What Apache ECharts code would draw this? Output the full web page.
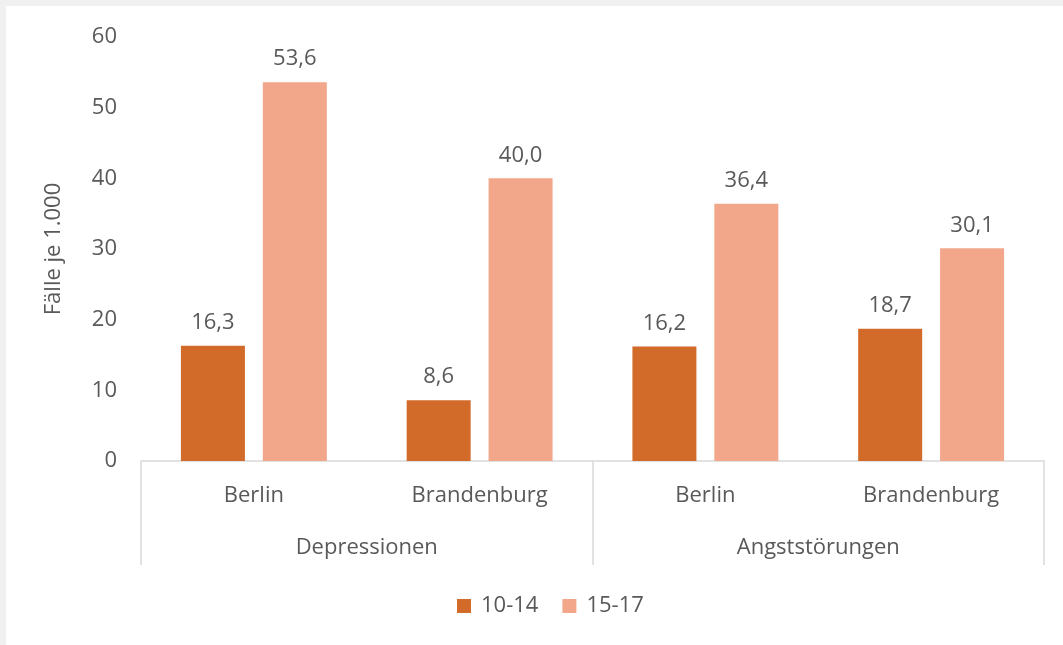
<!DOCTYPE html>
<html>
<head>
<meta charset="utf-8">
<script src="https://cdn.jsdelivr.net/npm/echarts@6/dist/echarts.min.js"></script>
<style>
    html, body { margin: 0; padding: 0; background: #f0f0f0; }
    #chart { position: absolute; left: 6px; top: 6px; width: 1057px; height: 639px; background: #fff; }
</style>
</head>
<body>
<div id="chart"></div>
<script>
// Daten
const regions = ['Berlin', 'Brandenburg', 'Berlin', 'Brandenburg'];
const groups = ['Depressionen', 'Angststörungen'];
const age1014 = [16.3, 8.6, 16.2, 18.7];
const age1517 = [53.6, 40.0, 36.4, 30.1];
const seriesNames = ['10-14', '15-17'];
const yTicks = [0, 10, 20, 30, 40, 50, 60];

const font = 'Open Sans';
const textColor = '#595959';
const lineColor = '#d9d9d9';

let myChart = echarts.init(document.getElementById('chart'));

// Beschriftung mit Komma statt Punkt
function fmt(p) {
    return p.value.toFixed(1).replace('.', ',');
}

let option = {
    animation: false,
    textStyle: { fontFamily: font },
    grid: { left: 135, right: 19, top: 31, bottom: 184 },
    legend: {
        bottom: 23,
        left: 446,
        icon: 'rect',
        itemWidth: 14,
        itemHeight: 14,
        itemGap: 24,
        textStyle: { fontFamily: font, fontSize: 22, color: textColor, padding: [0, 0, 0, 5] },
        data: seriesNames
    },
    xAxis: [
        {
            type: 'category',
            data: regions,
            axisLine: { show: true, lineStyle: { color: lineColor, width: 1.5 } },
            axisTick: { show: false },
            axisLabel: { color: textColor, fontSize: 22, fontFamily: font, margin: 24 }
        },
        {
            type: 'category',
            data: groups,
            position: 'bottom',
            axisLine: { show: false },
            axisTick: { show: true, length: 104, lineStyle: { color: lineColor, width: 1.5 } },
            axisLabel: { color: textColor, fontSize: 22, fontFamily: font, margin: 76 }
        }
    ],
    yAxis: {
        type: 'value',
        min: yTicks[0],
        max: yTicks[yTicks.length - 1],
        interval: 10,
        name: 'Fälle je 1.000',
        nameLocation: 'middle',
        nameGap: 76,
        nameTextStyle: { color: textColor, fontSize: 22, fontFamily: font },
        axisLine: { show: false },
        axisTick: { show: false },
        splitLine: { show: false },
        axisLabel: { color: textColor, fontSize: 22, fontFamily: font, margin: 24 }
    },
    series: [
        {
            name: seriesNames[0],
            type: 'bar',
            xAxisIndex: 0,
            data: age1014,
            barWidth: 64,
            barGap: '28%',
            itemStyle: { color: '#d26b2a' },
            label: { show: true, position: 'top', distance: 12, color: textColor, fontSize: 22, fontFamily: font, formatter: fmt }
        },
        {
            name: seriesNames[1],
            type: 'bar',
            xAxisIndex: 0,
            data: age1517,
            barWidth: 64,
            barGap: '28%',
            itemStyle: { color: '#f2a68a' },
            label: { show: true, position: 'top', distance: 12, color: textColor, fontSize: 22, fontFamily: font, formatter: fmt }
        }
    ]
};
myChart.setOption(option);
</script>
</body>
</html>
